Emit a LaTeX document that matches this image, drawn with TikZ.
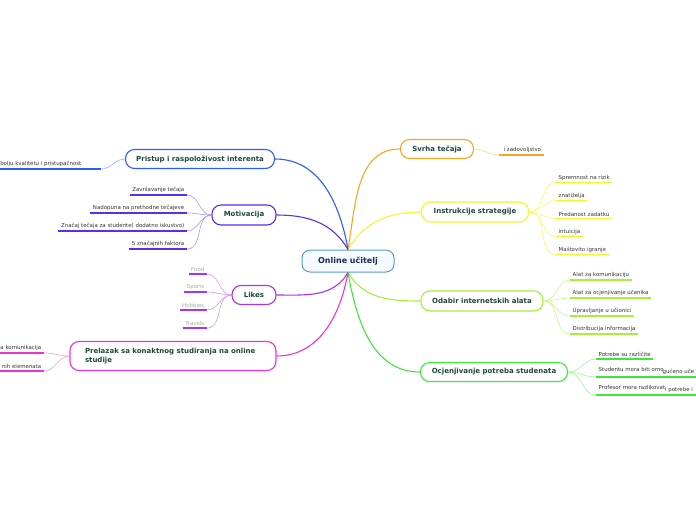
\documentclass[tikz,border=0pt]{standalone}
\usepackage{fontspec}
\setmainfont{DejaVu Sans}
\usetikzlibrary{positioning}
\definecolor{orng}{RGB}{245,166,35}
\definecolor{yel}{RGB}{245,245,45}
\definecolor{lime}{RGB}{166,240,58}
\definecolor{grn}{RGB}{60,232,60}
\definecolor{blu}{RGB}{42,92,255}
\definecolor{motv}{RGB}{90,46,240}
\definecolor{lik}{RGB}{168,51,240}
\definecolor{mag}{RGB}{240,50,210}
\definecolor{ctrline}{RGB}{90,155,213}
\definecolor{ctrfill}{RGB}{244,250,254}
\definecolor{txtgreen}{RGB}{30,72,58}
\definecolor{txtnavy}{RGB}{26,44,80}
\definecolor{txtgray}{RGB}{50,50,50}

\begin{document}
\begin{tikzpicture}[x=1pt,y=-1pt,
  topic/.style={draw,rounded corners=9pt,line width=1.1pt,fill=white,minimum height=19pt,
    inner xsep=10pt,font=\fontsize{7}{8.5}\selectfont\bfseries,text=txtgreen},
  leaf/.style={font=\fontsize{5.45}{6}\selectfont,text=txtgray,inner xsep=2.5pt,inner ysep=2pt},
  uline/.style={line width=1.6pt},
  twig/.style={line width=.6pt},
  limb/.style={line width=1.1pt}]
\clip (0,0) rectangle (696,520);

% root
\node[draw=ctrline,fill=ctrfill,rounded corners=8pt,line width=1pt,minimum width=92pt,minimum height=22pt,
  font=\fontsize{8}{9}\selectfont\bfseries,text=txtnavy] (ctr) at (348,261) {Online učitelj};

% right side
\node[topic,draw=orng,minimum width=73pt] (svr) at (437,149) {Svrha tečaja};
\node[topic,draw=yel,minimum width=107pt,minimum height=20pt] (ins) at (475,212) {Instrukcije strategije};
\node[topic,draw=lime,minimum width=122pt,minimum height=20pt] (oda) at (482,301) {Odabir internetskih alata};
\node[topic,draw=grn,minimum width=147pt] (ocj) at (494,372) {Ocjenjivanje potreba studenata};
% left side
\node[topic,draw=blu,minimum width=149pt] (pri) at (200,159) {Pristup i raspoloživost interenta};
\node[topic,draw=motv,minimum width=64pt,minimum height=20pt] (mot) at (244,215) {Motivacija};
\node[topic,draw=lik,minimum width=44pt] (lik) at (254,295) {Likes};
\node[topic,draw=mag,minimum width=206pt,minimum height=29pt,text width=176pt,inner xsep=15pt,align=left]
  (pre) at (173,356) {Prelazak sa konaktnog studiranja na online\\studije};

\draw[orng,limb] (ctr.north) to[out=80,in=180] (svr.west);
\draw[yel,limb] (ctr.north) to[out=60,in=180] (ins.west);
\draw[lime,limb] (ctr.south) to[out=-60,in=180] (oda.west);
\draw[grn,limb] (ctr.south) to[out=-80,in=180] (ocj.west);
\draw[blu,limb] (ctr.north) to[out=100,in=0] (pri.east);
\draw[motv,limb] (ctr.north) to[out=120,in=0] (mot.east);
\draw[lik,limb] (ctr.south) to[out=-120,in=0] (lik.east);
\draw[mag,limb] (ctr.south) to[out=-100,in=0] (pre.east);

% leaves right
\node[leaf,anchor=south west] (svr1) at (499,155) {\hspace{2pt}i zadovoljstvo\hspace{2pt}};
\draw[orng,uline] (svr1.south west) -- (svr1.south east);
\draw[orng!50,twig] (svr.east) to[out=0,in=180] (svr1.south west);

\foreach \t [count=\i] in {Spremnost na rizik,znatiželja,Predanost zadatku,intuicija,Maštovito igranje}{
  \node[leaf,anchor=south west] (ins\i) at (556,164.5+18*\i) {\t\hspace{2pt}};
  \draw[yel,uline] (ins\i.south west) -- (ins\i.south east);
  \draw[yel!70,twig] (ins.east) to[out=0,in=180] (ins\i.south west);
}
\foreach \t [count=\i] in {Alat za komunikaciju,Alat za ocjenjivanje učenika,Upravljanje u učionici,Distribucija informacija}{
  \node[leaf,anchor=south west] (oda\i) at (570,262+18*\i) {\t\hspace{2pt}};
  \draw[lime,uline] (oda\i.south west) -- (oda\i.south east);
  \draw[lime!60,twig] (oda.east) to[out=0,in=180] (oda\i.south west);
}
\foreach \t [count=\i] in {Potrebe su različite,Studentu mora biti omo\kern-1pt\raisebox{-2pt}{gućeno uče},Profesor mora razlikovat\raisebox{-2pt}{i potrebe i}}{
  \node[leaf,anchor=south west] (ocj\i) at (596,341+18*\i) {\t\hspace{2pt}};
  \draw[grn,uline] (ocj\i.south west) -- (ocj\i.south east);
  \draw[grn!50,twig] (ocj.east) to[out=0,in=180] (ocj\i.south west);
}

% leaves left
\node[leaf,anchor=south east] (pri1) at (101,169) {bolju kvalitetu i pristupačnost\hspace*{17pt}};
\draw[blu,uline] (pri1.south west) -- (pri1.south east);
\draw[blu!50,twig] (pri.west) to[out=180,in=0] (pri1.south east);

\foreach \t [count=\i] in {Završavanje tečaja,Nadopuna na prethodne tečajeve,Značaj tečaja za studente( dodatno iskustvo),5 značajnih faktora}{
  \node[leaf,anchor=south east] (mot\i) at (187,177+18*\i) {\t\hspace{2pt}};
  \draw[motv,uline] (mot\i.south west) -- (mot\i.south east);
  \draw[motv!50,twig] (mot.west) to[out=180,in=0] (mot\i.south east);
}
\foreach \t [count=\i] in {Food,Sports,Hobbies,Travels}{
  \node[leaf,anchor=south east,text=black!35] (lik\i) at (207,256+18*\i) {\t\hspace{2pt}};
  \draw[lik,uline] (lik\i.south west) -- (lik\i.south east);
  \draw[lik!50,twig] (lik.west) to[out=180,in=0] (lik\i.south east);
}
\foreach \t [count=\i] in {a komunikacija,nih elemenata}{
  \node[leaf,anchor=south east] (pre\i) at (44,335+18*\i) {\t\hspace{2pt}};
  \draw[mag,uline] ([xshift=-20pt]pre\i.south west) -- (pre\i.south east);
  \draw[mag!50,twig] (pre.west) to[out=180,in=0] (pre\i.south east);
}
\end{tikzpicture}
\end{document}
